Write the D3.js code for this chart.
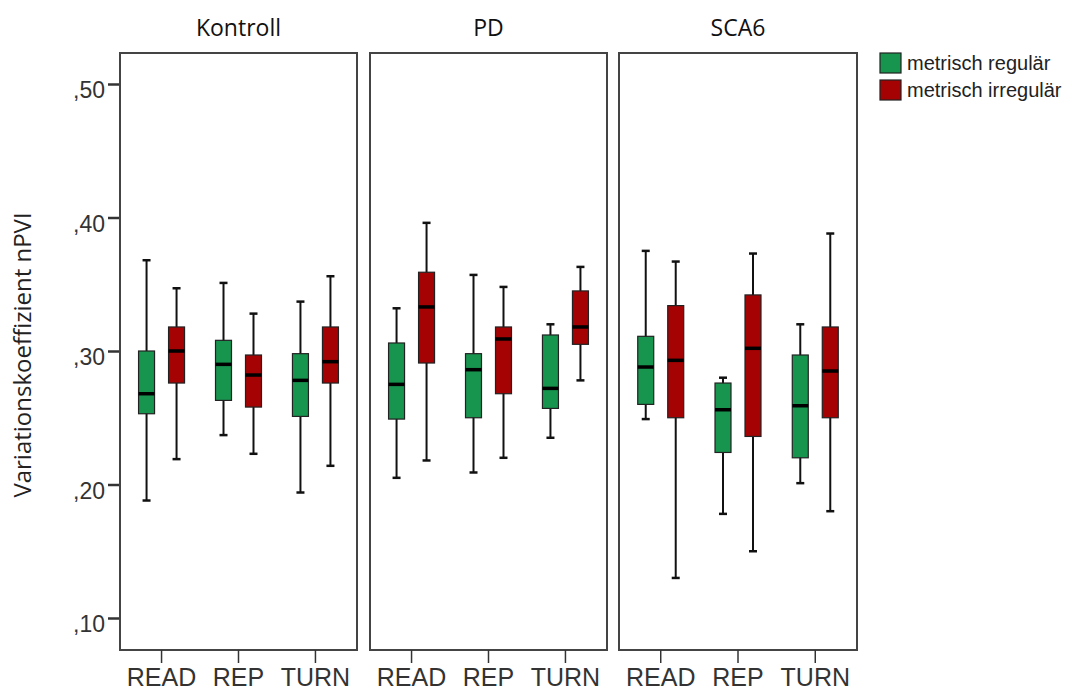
<!DOCTYPE html>
<html><head><meta charset="utf-8">
<script src="https://cdn.jsdelivr.net/npm/d3@7"></script>
<style>body{margin:0;background:#fff}svg{display:block}</style>
</head><body>
<script>
const groups = ["Kontroll", "PD", "SCA6"];
const tasks = ["READ", "REP", "TURN"];
const seriesNames = ["metrisch regulär", "metrisch irregulär"];
const yTicks = [0.10, 0.20, 0.30, 0.40, 0.50];
const yTickLabels = [",10", ",20", ",30", ",40", ",50"];
// [group, task, series, min, q1, median, q3, max]
const boxes = [
  ["Kontroll","READ",0, 0.188,0.253,0.268,0.300,0.368],
  ["Kontroll","READ",1, 0.219,0.276,0.300,0.318,0.347],
  ["Kontroll","REP",0, 0.237,0.263,0.290,0.308,0.351],
  ["Kontroll","REP",1, 0.223,0.258,0.282,0.297,0.328],
  ["Kontroll","TURN",0, 0.194,0.251,0.278,0.298,0.337],
  ["Kontroll","TURN",1, 0.214,0.276,0.292,0.318,0.356],
  ["PD","READ",0, 0.205,0.249,0.275,0.306,0.332],
  ["PD","READ",1, 0.218,0.291,0.333,0.359,0.396],
  ["PD","REP",0, 0.209,0.250,0.286,0.298,0.357],
  ["PD","REP",1, 0.220,0.268,0.309,0.318,0.348],
  ["PD","TURN",0, 0.235,0.257,0.272,0.312,0.320],
  ["PD","TURN",1, 0.278,0.305,0.318,0.345,0.363],
  ["SCA6","READ",0, 0.249,0.260,0.288,0.311,0.375],
  ["SCA6","READ",1, 0.130,0.250,0.293,0.334,0.367],
  ["SCA6","REP",0, 0.178,0.224,0.256,0.276,0.280],
  ["SCA6","REP",1, 0.150,0.236,0.302,0.342,0.373],
  ["SCA6","TURN",0, 0.201,0.220,0.259,0.297,0.320],
  ["SCA6","TURN",1, 0.180,0.250,0.285,0.318,0.388]
];
const colors = ["#17954f", "#a50303"];

const W = 1072, H = 693;
const svg = d3.select("body").append("svg").attr("width", W).attr("height", H);

const panelTop = 53, panelBottom = 650;
const panelX = [[120,357],[370,607],[619,857]];
const y = d3.scaleLinear().domain([0.10, 0.50]).range([618, 84]);

// y label
svg.append("text").attr("transform","translate(31,355) rotate(-90)")
  .attr("text-anchor","middle").attr("font-family","Open Sans, sans-serif")
  .attr("font-size",24).attr("fill","#222").text("Variationskoeffizient nPVI");

// y axis ticks
const yAxis = d3.axisLeft(y).tickValues(yTicks).tickSize(12).tickPadding(3)
  .tickFormat((d,i)=>yTickLabels[i]);
const ya = svg.append("g").attr("transform",`translate(${panelX[0][0]},0)`).call(yAxis);
ya.select(".domain").remove();
ya.selectAll("line").attr("stroke","#333").attr("stroke-width",2.5);
ya.selectAll("text").attr("font-family","Liberation Sans, Arial, sans-serif")
  .attr("font-size",23).attr("fill","#333").attr("dy","0.6em");

groups.forEach((g,gi)=>{
  const [x0,x1] = panelX[gi];
  const xb = d3.scaleBand().domain(tasks).range([x0,x1]).paddingOuter(0.04).paddingInner(0);
  const bwid = xb.bandwidth();
  const xs = d3.scaleBand().domain([0,1]).range([bwid/2-31, bwid/2+31]).paddingInner(0.467).paddingOuter(0.267);
  // title
  svg.append("text").attr("x",(x0+x1)/2).attr("y",36).attr("text-anchor","middle")
    .attr("font-family","Open Sans, sans-serif").attr("font-size",23).attr("fill","#111").text(g);
  // panel frame
  svg.append("rect").attr("x",x0).attr("y",panelTop).attr("width",x1-x0).attr("height",panelBottom-panelTop)
    .attr("fill","none").attr("stroke","#444").attr("stroke-width",2);
  // x axis
  const xa = svg.append("g").attr("transform",`translate(0,${panelBottom})`)
    .call(d3.axisBottom(xb).tickSize(13).tickPadding(5));
  xa.select(".domain").remove();
  xa.selectAll("line").attr("stroke","#333").attr("stroke-width",1.5);
  xa.selectAll("text").attr("font-family","Liberation Sans, Arial, sans-serif")
    .attr("font-size",25).attr("fill","#333");

  const bw = xs.bandwidth();
  boxes.filter(b=>b[0]===g).forEach(b=>{
    const [, task, s, mn, q1, md, q3, mx] = b;
    const cx = xb(task) + xs(s) + bw/2;
    const gg = svg.append("g");
    gg.append("line").attr("x1",cx).attr("x2",cx).attr("y1",y(mx)).attr("y2",y(mn))
      .attr("stroke","#111").attr("stroke-width",2);
    [mn,mx].forEach(v=>gg.append("line").attr("x1",cx-4).attr("x2",cx+4).attr("y1",y(v)).attr("y2",y(v))
      .attr("stroke","#111").attr("stroke-width",2.5));
    gg.append("rect").attr("x",cx-bw/2).attr("y",y(q3)).attr("width",bw).attr("height",y(q1)-y(q3))
      .attr("fill",colors[s]).attr("stroke","#222").attr("stroke-width",1.2);
    gg.append("line").attr("x1",cx-bw/2).attr("x2",cx+bw/2).attr("y1",y(md)).attr("y2",y(md))
      .attr("stroke","#000").attr("stroke-width",3.5);
  });
});

// legend
const lg = svg.append("g").attr("transform","translate(880,53)");
seriesNames.forEach((n,i)=>{
  lg.append("rect").attr("x",0).attr("y",i*27).attr("width",21).attr("height",20)
    .attr("fill",colors[i]).attr("stroke","#222").attr("stroke-width",1.2);
  lg.append("text").attr("x",27).attr("y",i*27+17).attr("font-family","Liberation Sans, Arial, sans-serif")
    .attr("font-size",20).attr("fill","#222").text(n);
});
</script>
</body></html>
